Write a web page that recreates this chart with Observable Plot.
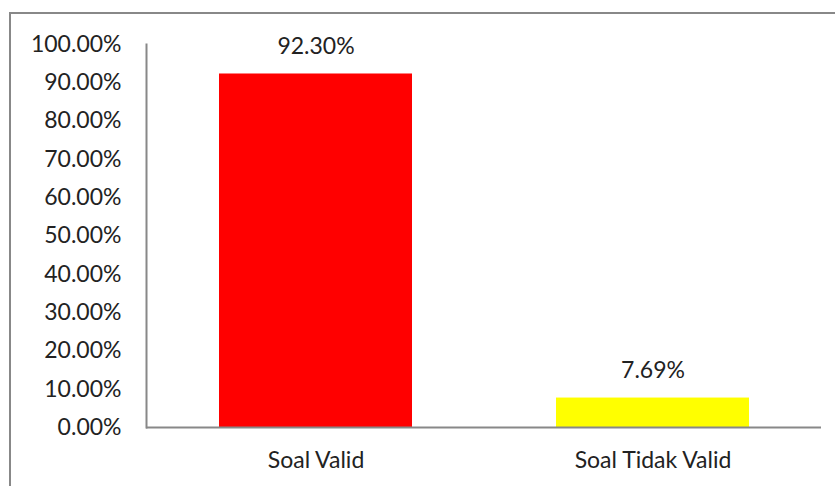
<!DOCTYPE html>
<html>
<head>
<meta charset="utf-8">
<script src="https://cdn.jsdelivr.net/npm/d3@7"></script>
<script src="https://cdn.jsdelivr.net/npm/@observablehq/plot@0.6"></script>
<style>
  html, body { margin: 0; padding: 0; background: #fff; }
  #wrap { position: relative; width: 835px; height: 486px; overflow: hidden; }
  #frame { position: absolute; left: 9px; top: 12px; width: 900px; height: 600px;
           border-left: 2px solid #888; border-top: 2px solid #888; box-sizing: border-box; }
  #chart { position: absolute; left: 0; top: 0; }
</style>
</head>
<body>
<div id="wrap"><div id="frame"></div><div id="chart"></div></div>
<script>
const categories = ["Soal Valid", "Soal Tidak Valid"];
const values = [92.30, 7.69];
const colors = ["#FF0000", "#FFFF00"];
const yTicks = [0, 10, 20, 30, 40, 50, 60, 70, 80, 90, 100];

const data = categories.map((c, i) => ({category: c, value: values[i], color: colors[i]}));

const chart = Plot.plot({
  width: 835,
  height: 486,
  marginLeft: 146,
  marginRight: 14,
  marginTop: 44,
  marginBottom: 59,
  style: { fontFamily: "Lato, sans-serif", fontSize: "23px", color: "#222", background: "transparent" },
  x: { domain: categories, paddingInner: 0.428, paddingOuter: 0.214, label: null, tickSize: 0, tickPadding: 24 },
  y: { domain: [0, 100], ticks: yTicks, tickFormat: d => d.toFixed(2) + "%", label: null, tickSize: 0, tickPadding: 25 },
  marks: [
    Plot.barY(data, { x: "category", y: "value", fill: d => d.color }),
    Plot.frame({ anchor: "left", stroke: "#888", strokeWidth: 2 }),
    Plot.ruleY([0], { stroke: "#888", strokeWidth: 2 }),
    Plot.text(data, { x: "category", y: "value", text: d => d.value.toFixed(2) + "%", dy: -27, lineAnchor: "middle", fill: "#222", fontSize: 23 })
  ]
});
document.getElementById("chart").appendChild(chart);
</script>
</body>
</html>
